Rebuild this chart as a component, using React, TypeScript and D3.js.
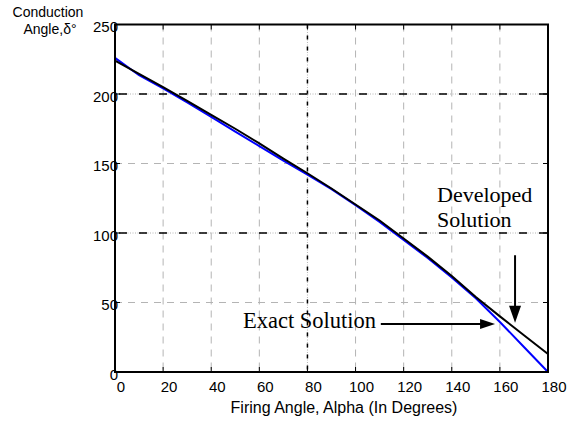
import React from "react";
import * as d3 from "d3";

const alphaDeg = [0, 10, 20, 30, 40, 50, 60, 70, 80, 90, 100, 110, 120, 130, 140, 150, 160, 170, 180];
const developed = [224, 214.5, 205, 195, 185, 175, 164.5, 153.5, 143, 132, 120.5, 109, 96, 83, 69, 54, 40, 26.5, 13];
const exact = [226, 213.5, 204, 194, 183.5, 173, 162.5, 152, 142, 131.5, 120, 108, 95, 82, 68, 53, 36, 18, 0];
const xTicks = [0, 20, 40, 60, 80, 100, 120, 140, 160, 180];
const yTicks = [0, 50, 100, 150, 200, 250];

const W = 571, H = 421;
const L = 115, R = 548, T = 24.5, B = 372;

export default function App() {
  const x = d3.scaleLinear().domain([0, 180]).range([L, R]);
  const y = d3.scaleLinear().domain([0, 250]).range([B, T]);
  const line = d3.line<number>().x((_, i) => x(alphaDeg[i])).y((d) => y(d));
  const sans = "Liberation Sans, Arial, sans-serif";
  const serif = "Liberation Serif, Times New Roman, serif";
  const specialX = [80];
  const specialY = [100, 200];
  const grey = "#b4b4b4";

  // arrows
  const hx1 = x(110.5), hx2 = x(158), hy = y(34.5);
  const vx = x(166.3), vy1 = y(84), vy2 = y(35.5);

  return (
    <svg width={W} height={H} style={{ position: "absolute", left: 0, top: 0, background: "#fff" }} fontFamily={sans}>
      <rect x={0} y={0} width={W} height={H} fill="#fff" />
      {/* grid */}
      {xTicks.filter((t) => t > 0 && t < 180).map((t) =>
        specialX.includes(t) ? (
          <g key={"gx" + t}>
            <line x1={x(t)} x2={x(t)} y1={T} y2={B} stroke={grey} strokeWidth={1} strokeDasharray="1,1.5" />
            <line x1={x(t)} x2={x(t)} y1={T} y2={B} stroke="#000" strokeWidth={1.5} strokeDasharray="4,7" />
          </g>
        ) : (
          <line key={"gx" + t} x1={x(t)} x2={x(t)} y1={T} y2={B} stroke={grey} strokeWidth={1} strokeDasharray="7,6" />
        )
      )}
      {yTicks.filter((t) => t > 0 && t < 250).map((t) =>
        specialY.includes(t) ? (
          <g key={"gy" + t}>
            <line x1={L} x2={R} y1={y(t)} y2={y(t)} stroke={grey} strokeWidth={1} strokeDasharray="1,1.5" />
            <line x1={L} x2={R} y1={y(t)} y2={y(t)} stroke="#000" strokeWidth={1.5} strokeDasharray="8,12" strokeDashoffset={-4} />
          </g>
        ) : (
          <line key={"gy" + t} x1={L} x2={R} y1={y(t)} y2={y(t)} stroke={grey} strokeWidth={1} strokeDasharray="7,6" />
        )
      )}
      {/* tick labels */}
      {yTicks.map((t) => (
        <text key={"yl" + t} x={118} y={y(t) + 7.5} textAnchor="end" fontSize={15} fill="#000">{t}</text>
      ))}
      {xTicks.map((t) => (
        <text key={"xl" + t} x={x(t) + 6} y={392} textAnchor="middle" fontSize={15} fill="#000">{t}</text>
      ))}
      {/* data */}
      <path d={line(exact) || ""} fill="none" stroke="#0000ff" strokeWidth={2} />
      <path d={line(developed) || ""} fill="none" stroke="#000" strokeWidth={2} />
      {/* ticks */}
      {xTicks.map((t) => (
        <g key={"xt" + t}>
          <line x1={x(t)} x2={x(t)} y1={B} y2={B - 5} stroke="#000" strokeWidth={1} />
          <line x1={x(t)} x2={x(t)} y1={T} y2={T + 5} stroke="#000" strokeWidth={1} />
        </g>
      ))}
      {yTicks.map((t) => (
        <g key={"yt" + t}>
          <line x1={L} x2={L + 5} y1={y(t)} y2={y(t)} stroke="#000" strokeWidth={1} />
          <line x1={R} x2={R - 5} y1={y(t)} y2={y(t)} stroke="#000" strokeWidth={1} />
        </g>
      ))}
      {/* frame */}
      <rect x={L} y={T} width={R - L} height={B - T} fill="none" stroke="#000" strokeWidth={2} />
      {/* annotations */}
      <text x={243} y={328} fontFamily={serif} fontSize={22.5} fill="#000">Exact Solution</text>
      <text x={437} y={202} fontFamily={serif} fontSize={22} fill="#000">Developed</text>
      <text x={437} y={227} fontFamily={serif} fontSize={22} fill="#000">Solution</text>
      <line x1={hx1} x2={hx2 - 12} y1={hy} y2={hy} stroke="#000" strokeWidth={2} />
      <path d={`M${hx2},${hy} L${hx2 - 15},${hy - 5} L${hx2 - 15},${hy + 5} Z`} fill="#000" />
      <line x1={vx} x2={vx} y1={vy1} y2={vy2 - 14} stroke="#000" strokeWidth={2} />
      <path d={`M${vx},${vy2} L${vx - 6},${vy2 - 17} L${vx + 6},${vy2 - 17} Z`} fill="#000" />
      {/* axis titles */}
      <text x={48} y={17} textAnchor="middle" fontSize={14} fill="#000">Conduction</text>
      <text x={50} y={34} textAnchor="middle" fontSize={14} fill="#000">Angle,δ°</text>
      <text x={344} y={413} textAnchor="middle" fontSize={16} fill="#000">Firing Angle, Alpha (In Degrees)</text>
    </svg>
  );
}
